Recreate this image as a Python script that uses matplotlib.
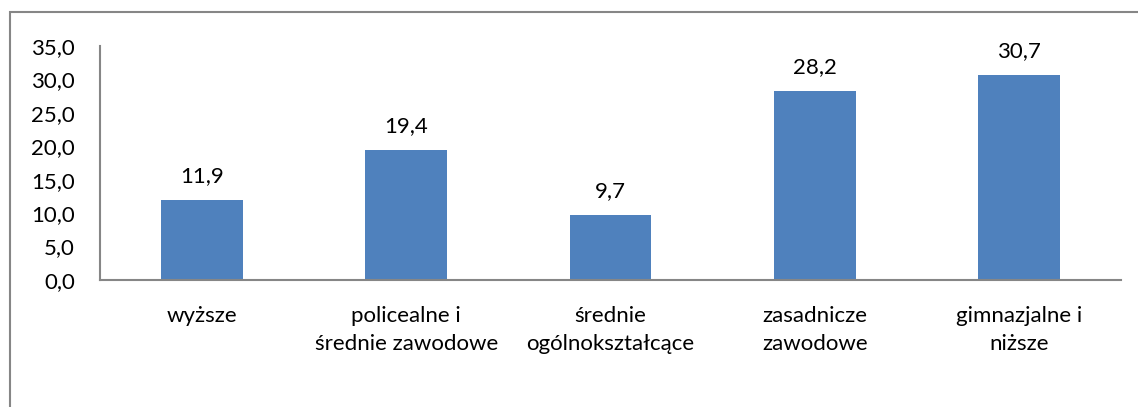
#!/usr/bin/env python3
"""plot.py — bar chart of shares by education level."""

import matplotlib
matplotlib.use("Agg")
import matplotlib.pyplot as plt
from matplotlib.patches import Rectangle

categories = [
    "wyższe",
    "policealne i\nśrednie zawodowe",
    "średnie\nogólnokształcące",
    "zasadnicze\nzawodowe",
    "gimnazjalne i\nniższe",
]
values = [11.9, 19.4, 9.7, 28.2, 30.7]
yticks = [0, 5, 10, 15, 20, 25, 30, 35]

W, H = 1138, 407
FS = 16
plt.rcParams["font.family"] = ["Lato", "DejaVu Sans"]

fig = plt.figure(figsize=(W / 100, H / 100), dpi=100)
ax = fig.add_axes([100 / W, 1 - 280 / H, 1021 / W, 234 / H])

x = list(range(len(categories)))
ax.bar(x, values, width=0.4, color="#4F81BD", zorder=2)

for xi, v in zip(x, values):
    ax.annotate(f"{v:.1f}".replace(".", ","), (xi, v), xytext=(0, 10),
                textcoords="offset points", ha="center", va="bottom",
                fontsize=FS, color="#000000")

ax.set_xlim(-0.5, len(categories) - 0.5)
ax.set_ylim(0, 35)
ax.set_yticks(yticks)
ax.set_yticklabels([f"{t:.1f}".replace(".", ",") for t in yticks])
ax.set_xticks(x)
ax.set_xticklabels(categories, linespacing=1.45)
ax.tick_params(axis="both", length=0, labelsize=FS, colors="#000000")
ax.tick_params(axis="x", pad=19)
ax.tick_params(axis="y", pad=18)

for side in ("top", "right"):
    ax.spines[side].set_visible(False)
for side in ("left", "bottom"):
    ax.spines[side].set_color("#868686")
    ax.spines[side].set_linewidth(1.5)

# outer chart frame, cut by the image edges on right and bottom
fig.patches.append(Rectangle((10 / W, -0.1), 1.2, 1 - 12 / H + 0.1,
                             transform=fig.transFigure, fill=False,
                             edgecolor="#868686", linewidth=1.5))

fig.savefig("out.png", dpi=100)
